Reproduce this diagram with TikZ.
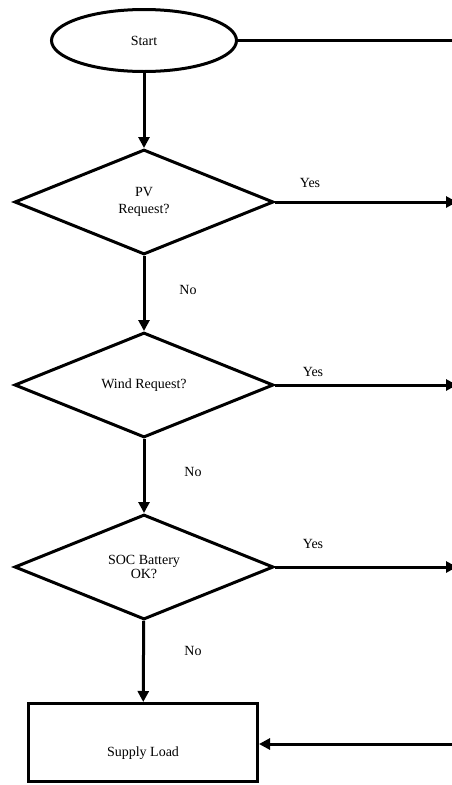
\documentclass[tikz,border=0pt]{standalone}
\usepackage{fontspec}
\setmainfont{Liberation Serif}
\usetikzlibrary{shapes.geometric,arrows.meta}

\begin{document}
\begin{tikzpicture}[x=1pt,y=-1pt,line width=3pt,
		every node/.style={font=\fontsize{14}{17}\selectfont},
		terminal/.style={draw,ellipse,minimum width=185pt,minimum height=62pt,inner sep=0pt},
		decision/.style={draw,diamond,aspect=2.4,minimum width=259pt,minimum height=105pt,inner sep=0pt,align=center},
		process/.style={draw,rectangle,minimum width=229pt,minimum height=78pt,inner sep=0pt},
		flow/.style={-{Triangle[length=11pt,width=11pt]}}]
	\useasboundingbox (0,0) rectangle (452,785);
	\clip (0,0) rectangle (452,785);
	\node[terminal] (start) at (144,40.5) {Start};
	\node[decision] (pv) at (144,202) {PV\\Request?};
	\node[decision] (wind) at (144,385) {Wind Request?};
	\node[decision] (soc) at (144,567) {SOC Battery\\[-3pt]OK?};
	\node[process,text height=28pt,text depth=0pt] (load) at (143,742.5) {Supply Load};
	\coordinate (out0) at (452,40.5);
	\coordinate (out1) at (457,202);
	\coordinate (out2) at (457,385);
	\coordinate (out3) at (457,567);
	\coordinate (in4) at (452,744);
	\draw (start) -- (out0);
	\draw[flow] (start) -- (pv);
	\draw[flow] (pv) -- (wind);
	\draw[flow] (wind) -- (soc);
	\draw[flow] (soc) -- (load);
	\draw[flow] (pv.east) -- (out1);
	\draw[flow] (wind.east) -- (out2);
	\draw[flow] (soc.east) -- (out3);
	\draw[flow] (in4) -- (in4 -| load.east);
	\node (yes1) at (310,183) {Yes};
	\node (yes2) at (313,372) {Yes};
	\node (yes3) at (313,544) {Yes};
	\node (no1) at (188,290) {No};
	\node (no2) at (193,472) {No};
	\node (no3) at (193,651) {No};
\end{tikzpicture}
\end{document}
